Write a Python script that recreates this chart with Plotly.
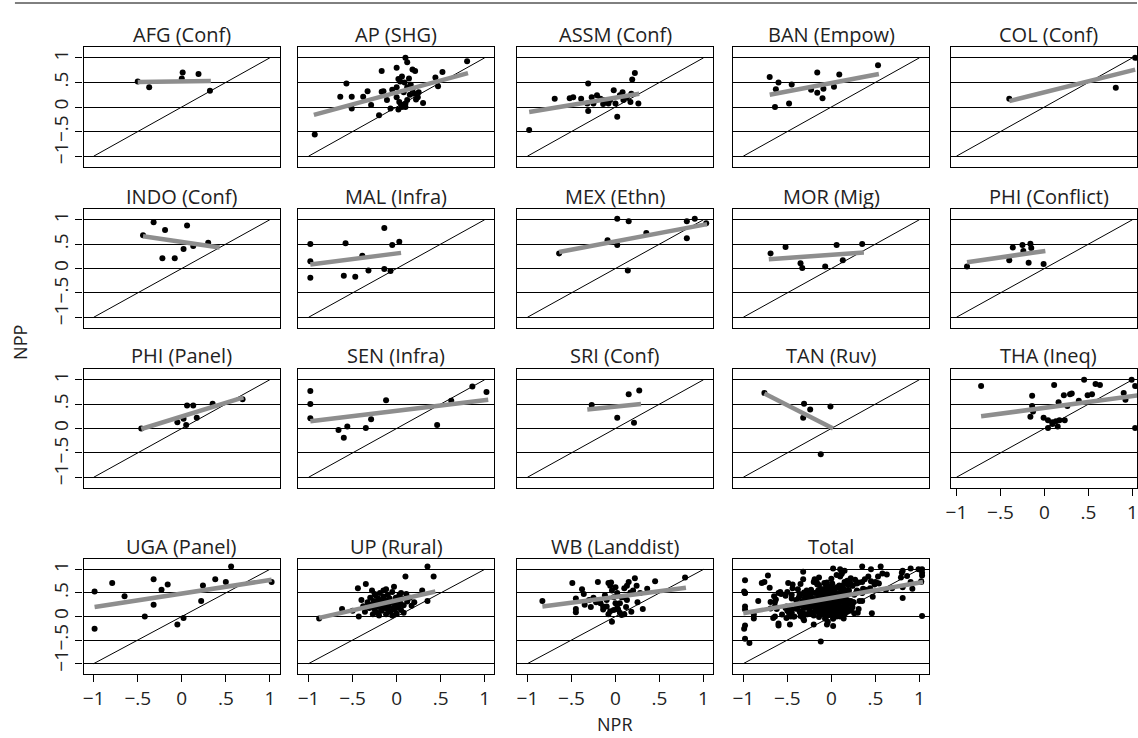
import plotly.graph_objects as go

# ---------------- data ----------------
titles = ["AFG (Conf)", "AP (SHG)", "ASSM (Conf)", "BAN (Empow)", "COL (Conf)",
          "INDO (Conf)", "MAL (Infra)", "MEX (Ethn)", "MOR (Mig)", "PHI (Conflict)",
          "PHI (Panel)", "SEN (Infra)", "SRI (Conf)", "TAN (Ruv)", "THA (Ineq)",
          "UGA (Panel)", "UP (Rural)", "WB (Landdist)", "Total"]

tick_vals = [-1, -0.5, 0, 0.5, 1]
tick_text = ["\u22121", "\u2212.5", "0", ".5", "1"]
diag = [-1, 1]

afg_pts = [(-0.50, 0.52), (-0.37, 0.40), (0.01, 0.70), (0.00, 0.58), (0.19, 0.67), (0.32, 0.33)]
ap_pts = [(-0.93, -0.56), (-0.57, 0.48), (-0.64, 0.21), (-0.51, 0.21), (-0.51, -0.03), (-0.38, 0.21),
          (-0.33, 0.32), (-0.29, 0.04), (-0.20, -0.17), (-0.17, 0.73), (-0.17, 0.31), (0.10, 1.00),
          (0.12, 0.91), (0.00, 0.80), (0.18, 0.76), (0.21, 0.73), (0.02, 0.57), (0.04, 0.52),
          (0.09, 0.50), (0.12, 0.40), (0.16, 0.45), (-0.15, 0.32), (-0.11, 0.14), (-0.07, -0.03),
          (0.06, 0.00), (0.10, 0.07), (0.12, 0.14), (0.20, 0.27), (0.24, 0.20), (0.30, 0.08),
          (0.47, 0.42), (0.52, 0.71), (0.44, 0.60), (0.80, 0.93), (0.00, 0.20), (0.03, 0.10),
          (0.05, 0.05), (0.08, 0.30), (0.15, 0.25), (0.18, 0.35), (0.22, 0.15), (-0.05, 0.35),
          (0.00, 0.40), (0.14, 0.58), (0.06, 0.62), (0.25, 0.30), (0.10, 0.00), (0.02, -0.05)]
assm_pts = [(-0.98, -0.47), (-0.69, 0.17), (-0.52, 0.18), (-0.48, 0.20), (-0.39, 0.17), (-0.31, 0.48),
            (-0.31, -0.08), (-0.27, 0.20), (-0.21, 0.24), (-0.17, 0.17), (-0.14, 0.14), (-0.10, 0.10),
            (-0.06, 0.14), (-0.02, 0.34), (0.02, -0.20), (0.05, 0.24), (0.09, 0.14), (0.13, 0.20),
            (0.17, 0.10), (0.18, 0.27), (0.22, 0.69), (0.19, 0.56), (0.26, 0.07), (-0.32, 0.07),
            (-0.25, 0.07), (-0.14, 0.06), (-0.08, 0.07), (0.00, 0.07), (0.08, 0.30)]
ban_pts = [(-0.70, 0.61), (-0.60, 0.50), (-0.63, 0.36), (-0.64, 0.00), (-0.48, 0.07), (-0.45, 0.46),
           (-0.23, 0.35), (-0.16, 0.70), (-0.16, 0.29), (-0.09, 0.37), (-0.10, 0.18), (0.03, 0.41),
           (0.09, 0.66), (0.53, 0.85)]
col_pts = [(-0.40, 0.17), (0.81, 0.39), (1.03, 1.00)]
indo_pts = [(-0.32, 0.95), (-0.19, 0.79), (0.06, 0.88), (-0.22, 0.21), (-0.08, 0.21), (0.02, 0.40),
            (0.30, 0.53), (0.13, 0.46), (-0.44, 0.68)]
mal_pts = [(-0.98, 0.50), (-0.98, 0.15), (-0.98, -0.19), (-0.58, 0.52), (-0.60, -0.15), (-0.47, -0.17),
           (-0.32, -0.04), (-0.39, 0.26), (-0.14, 0.83), (-0.05, 0.48), (0.03, 0.55), (-0.14, -0.01),
           (-0.07, -0.05)]
mex_pts = [(0.02, 1.02), (0.15, 0.97), (-0.09, 0.58), (0.02, 0.48), (0.14, -0.04), (0.35, 0.73),
           (0.81, 0.97), (0.90, 1.02), (0.81, 0.62), (1.03, 0.93), (-0.64, 0.31)]
mor_pts = [(-0.69, 0.31), (-0.52, 0.44), (-0.35, 0.11), (-0.33, 0.01), (-0.07, 0.04), (0.06, 0.48),
           (0.13, 0.17), (0.35, 0.50)]
phic_pts = [(-0.88, 0.04), (-0.36, 0.43), (-0.25, 0.48), (-0.16, 0.51), (-0.15, 0.42), (-0.24, 0.36),
            (-0.40, 0.17), (-0.18, 0.12), (-0.01, 0.09)]
php_pts = [(-0.46, 0.00), (-0.05, 0.13), (0.05, 0.07), (0.06, 0.47), (0.13, 0.47), (0.17, 0.22),
           (0.35, 0.51), (0.02, 0.20), (0.69, 0.60)]
sen_pts = [(-0.98, 0.77), (-0.98, 0.50), (-0.98, 0.21), (-0.66, -0.03), (-0.60, -0.19), (-0.56, 0.04),
           (-0.35, 0.01), (-0.29, 0.19), (-0.12, 0.58), (0.46, 0.07), (0.62, 0.57), (0.86, 0.86),
           (1.02, 0.75)]
sri_pts = [(-0.27, 0.48), (0.15, 0.70), (0.27, 0.78), (0.02, 0.22), (0.21, 0.12)]
tan_pts = [(-0.76, 0.73), (-0.31, 0.51), (-0.24, 0.39), (-0.32, 0.22), (-0.01, 0.45), (-0.12, -0.53)]
tha_pts = [(-0.72, 0.87), (0.11, 0.89), (0.45, 1.00), (0.58, 0.91), (0.63, 0.89), (0.99, 1.00),
           (1.03, 0.87), (-0.14, 0.67), (0.22, 0.68), (0.29, 0.70), (0.31, 0.72), (0.49, 0.68),
           (0.54, 0.70), (0.90, 0.73), (0.92, 0.59), (-0.14, 0.46), (-0.13, 0.35), (0.16, 0.54),
           (0.26, 0.46), (0.39, 0.57), (-0.16, 0.24), (-0.01, 0.22), (0.04, 0.17), (0.09, 0.13),
           (0.13, 0.15), (0.17, 0.17), (0.23, 0.17), (0.04, 0.01), (0.15, 0.04), (0.09, 0.09),
           (1.03, 0.01)]
uga_pts = [(-0.99, 0.53), (-0.99, -0.26), (-0.79, 0.71), (-0.65, 0.43), (-0.42, 0.00), (-0.32, 0.79),
           (-0.32, 0.25), (-0.23, 0.57), (-0.16, 0.68), (-0.05, -0.17), (0.02, -0.03), (0.22, 0.33),
           (0.24, 0.66), (0.38, 0.79), (0.50, 0.73), (0.56, 1.06), (1.02, 0.73)]
up_pts = [(-0.88, -0.04), (-0.62, 0.16), (-0.44, 0.60), (-0.43, 0.00), (-0.35, 0.69), (-0.50, 0.12),
          (-0.40, 0.35), (-0.38, 0.22), (-0.36, 0.10), (-0.33, 0.30), (-0.31, 0.18), (-0.30, 0.40),
          (-0.28, 0.25), (-0.27, 0.05), (-0.26, 0.33), (-0.25, 0.15), (-0.24, 0.45), (-0.23, 0.28),
          (-0.22, 0.08), (-0.21, 0.38), (-0.20, 0.20), (-0.19, 0.50), (-0.18, 0.32), (-0.17, 0.12),
          (-0.16, 0.26), (-0.15, 0.42), (-0.14, 0.18), (-0.13, 0.35), (-0.12, 0.05), (-0.11, 0.28),
          (-0.10, 0.46), (-0.09, 0.22), (-0.08, 0.38), (-0.07, 0.10), (-0.06, 0.30), (-0.05, 0.52),
          (-0.04, 0.18), (-0.03, 0.63), (-0.02, 0.26), (-0.01, 0.40), (0.00, 0.06), (0.01, 0.34),
          (0.02, 0.20), (0.03, 0.45), (0.04, 0.28), (0.05, 0.14), (0.06, 0.38), (0.08, 0.24),
          (0.10, 0.85), (0.12, 0.32), (0.15, 0.40), (0.17, 0.23), (0.20, 0.30), (0.29, 0.55),
          (0.35, 1.06), (0.35, 0.33), (0.42, 0.85), (0.11, 0.48), (-0.03, 0.15), (-0.25, 0.48),
          (-0.15, 0.55), (-0.05, 0.02), (0.05, 0.50), (-0.32, 0.25), (-0.20, 0.02), (-0.10, 0.15),
          (0.00, 0.18), (0.08, 0.08), (-0.28, 0.55), (-0.12, 0.58)]
wb_pts = [(-0.83, 0.33), (-0.49, 0.71), (-0.45, 0.16), (-0.45, 0.09), (-0.45, 0.38), (-0.38, 0.58),
          (-0.36, 0.48), (-0.28, 0.20), (-0.20, 0.73), (-0.17, 0.28), (-0.14, 0.21), (-0.10, 0.35),
          (-0.08, 0.71), (-0.06, 0.65), (-0.04, 0.55), (-0.02, 0.41), (0.00, 0.28), (0.02, 0.18),
          (0.03, 0.15), (0.05, 0.08), (-0.04, -0.11), (0.07, 0.03), (0.13, 0.65), (0.15, 0.73),
          (0.17, 0.51), (0.22, 0.81), (0.24, 0.65), (0.18, 0.10), (0.31, 0.16), (0.36, 0.59),
          (0.45, 0.75), (0.79, 0.83), (0.09, 0.41), (0.13, 0.35), (-0.10, 0.21), (-0.14, 0.15),
          (-0.06, 0.11), (-0.02, 0.14), (0.05, 0.28), (0.07, 0.41), (-0.30, 0.35), (-0.25, 0.40),
          (-0.22, 0.30), (-0.05, 0.72), (0.00, 0.62), (0.10, 0.60), (0.20, 0.55), (0.28, 0.50),
          (-0.12, 0.45), (0.02, 0.50), (0.12, 0.20), (0.25, 0.30), (-0.35, 0.25), (-0.08, 0.05),
          (0.10, 0.05)]

panel_pts = [afg_pts, ap_pts, assm_pts, ban_pts, col_pts, indo_pts, mal_pts, mex_pts, mor_pts,
             phic_pts, php_pts, sen_pts, sri_pts, tan_pts, tha_pts, uga_pts, up_pts, wb_pts]
total_pts = [p for pts in panel_pts for p in pts]
panel_pts = panel_pts + [total_pts]

# fitted lines: (x_start, x_end), (y_start, y_end)
fit_x = [(-0.50, 0.33), (-0.94, 0.81), (-0.98, 0.27), (-0.70, 0.54), (-0.40, 1.03),
         (-0.44, 0.43), (-0.98, 0.05), (-0.64, 1.04), (-0.71, 0.37), (-0.88, 0.01),
         (-0.46, 0.70), (-0.98, 1.04), (-0.32, 0.29), (-0.76, 0.02), (-0.72, 1.06),
         (-0.99, 1.02), (-0.88, 0.44), (-0.83, 0.80), (-1.00, 1.04)]
fit_y = [(0.51, 0.53), (-0.16, 0.69), (-0.10, 0.27), (0.25, 0.67), (0.12, 0.76),
         (0.66, 0.43), (0.08, 0.32), (0.34, 0.91), (0.19, 0.33), (0.13, 0.36),
         (-0.01, 0.64), (0.15, 0.59), (0.39, 0.50), (0.72, 0.00), (0.25, 0.68),
         (0.20, 0.78), (-0.03, 0.53), (0.21, 0.61), (0.07, 0.73)]

# ---------------- layout geometry ----------------
W, H = 1138, 738
col_left = [79, 295, 515, 732, 951]
col_w = 197
row_top = [47, 209, 369, 559]
row_h = [120, 119, 119, 115]
x_ranges = [[-1.115, 1.11]] * 4 + [[-1.062, 1.051]]
y_range = [-1.22, 1.22]
FONT = "'Open Sans', Lato, sans-serif"
TXT = "#222"

fig = go.Figure()
annotations = []

for i, title in enumerate(titles):
    r, c = divmod(i, 5)
    k = i + 1
    xa = "x" if k == 1 else f"x{k}"
    ya = "y" if k == 1 else f"y{k}"
    pts = panel_pts[i]
    fig.add_trace(go.Scatter(x=[p[0] for p in pts], y=[p[1] for p in pts], mode="markers",
                             marker=dict(color="black", size=6), xaxis=xa, yaxis=ya,
                             showlegend=False, hoverinfo="skip"))
    fig.add_trace(go.Scatter(x=diag, y=diag, mode="lines", line=dict(color="black", width=1),
                             xaxis=xa, yaxis=ya, showlegend=False, hoverinfo="skip"))
    fig.add_trace(go.Scatter(x=list(fit_x[i]), y=list(fit_y[i]), mode="lines",
                             line=dict(color="#8e8e8e", width=4.5),
                             xaxis=xa, yaxis=ya, showlegend=False, hoverinfo="skip"))

    left = col_left[c]
    right = min(left + col_w, W)
    top = row_top[r]
    bot = top + row_h[r]
    bottom_panel = (r == 3) or (r == 2 and c == 4)
    left_panel = (c == 0)

    fig.layout[("xaxis" if k == 1 else f"xaxis{k}")] = dict(
        domain=[left / W, right / W], anchor=ya, range=x_ranges[c],
        showgrid=False, zeroline=False, showline=True, mirror=True,
        linecolor="black", linewidth=1.2,
        tickvals=tick_vals, ticktext=tick_text,
        ticks="outside" if bottom_panel else "", ticklen=7, tickcolor="black",
        showticklabels=bottom_panel, tickfont=dict(size=19, color=TXT, family=FONT))
    fig.layout[("yaxis" if k == 1 else f"yaxis{k}")] = dict(
        domain=[1 - bot / H, 1 - top / H], anchor=xa, range=y_range,
        showgrid=True, gridcolor="black", gridwidth=1.2, zeroline=False,
        showline=True, mirror=True, linecolor="black", linewidth=1.2,
        tickvals=tick_vals, ticktext=tick_text,
        ticks="outside" if left_panel else "", ticklen=7, tickcolor="black",
        showticklabels=left_panel, tickangle=-90,
        tickfont=dict(size=19, color=TXT, family=FONT))

    annotations.append(dict(text=title, x=(left + left + col_w) / 2 / W, y=1 - (top - 13) / H,
                            xref="paper", yref="paper", xanchor="center", yanchor="middle",
                            showarrow=False, font=dict(size=20, color=TXT, family=FONT)))

annotations.append(dict(text="NPP", x=15 / W, y=1 - 342 / H, xref="paper", yref="paper",
                        textangle=-90, showarrow=False, xanchor="center", yanchor="middle",
                        font=dict(size=18, color=TXT, family=FONT)))
annotations.append(dict(text="NPR", x=613 / W, y=1 - 724 / H, xref="paper", yref="paper",
                        showarrow=False, xanchor="center", yanchor="middle",
                        font=dict(size=18, color=TXT, family=FONT)))

fig.update_layout(width=W, height=H, margin=dict(l=0, r=0, t=0, b=0),
                  paper_bgcolor="white", plot_bgcolor="white",
                  annotations=annotations,
                  shapes=[dict(type="line", xref="paper", yref="paper", x0=10 / W, x1=1,
                               y0=1 - 3 / H, y1=1 - 3 / H, line=dict(color="black", width=1))])

fig.write_html("out.html", config={"displayModeBar": False},
               post_script="document.body.style.margin='0px';document.body.style.overflow='hidden';")
